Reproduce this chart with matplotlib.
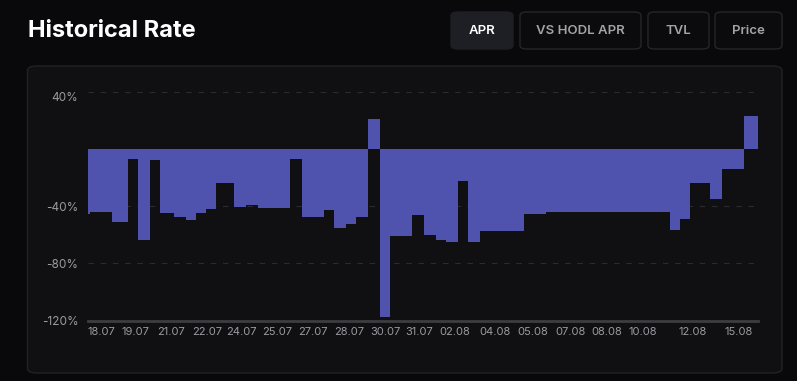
import numpy as np
import matplotlib
matplotlib.use("Agg")
import matplotlib.pyplot as plt
from matplotlib.patches import FancyBboxPatch

# APR runs: each value repeats for a number of consecutive bars
valores_apr = [-45.6, -44.0, -51.0, -7.0, -63.9, -7.7, -44.4, -47.3, -49.8, -44.7,
               -41.9, -23.4, -40.7, -39.1, -41.0, -40.9, -7.0, -47.5, -42.8, -55.2,
               -52.6, -47.7, 21.0, -117.7, -61.0, -46.3, -60.4, -63.9, -65.0, -22.5,
               -65.0, -57.3, -45.4, -44.2, -56.8, -48.9, -23.4, -35.1, -13.6, -14.0,
               23.2]
repeticiones = [1, 11, 8, 5, 6, 5, 7, 6, 5, 5,
                5, 9, 6, 6, 5, 11, 6, 11, 5, 6,
                5, 6, 6, 5, 11, 6, 6, 5, 6, 5,
                6, 22, 11, 62, 5, 5, 10, 6, 6, 5,
                7]

etiquetas = ["18.07", "19.07", "21.07", "22.07", "24.07", "25.07", "27.07", "28.07",
             "30.07", "31.07", "02.08", "04.08", "05.08", "07.08", "08.08", "10.08",
             "12.08", "15.08"]
pos_etiquetas = [6, 23, 41, 59, 76, 94, 112, 130, 148, 165, 183, 203, 222, 241,
                 259, 277, 302, 325]

y_ticks = [40, -40, -80, -120]
y_labels = ["40%", "-40%", "-80%", "-120%"]

botones = ["APR", "VS HODL APR", "TVL", "Price"]

apr = np.repeat(valores_apr, repeticiones)
x = np.arange(len(apr))

W, H = 797, 381
fig = plt.figure(figsize=(W / 100, H / 100), dpi=100)
fig.patch.set_facecolor("#09090b")

# panel del grafico
panel = FancyBboxPatch((27.5 / W, 1 - 373 / H), (782 - 27.5) / W, (373 - 66) / H,
                       boxstyle="round,pad=0,rounding_size=0.012",
                       transform=fig.transFigure, facecolor="#101013",
                       edgecolor="#222226", linewidth=1.0, zorder=-5)
fig.patches.append(panel)

fig.text(28 / W, 1 - 31 / H, "Historical Rate", color="white", fontsize=17,
         fontweight="bold", family="Inter", va="center", ha="left")

# botones
cajas = [(451, 513), (520, 641), (648, 709), (715, 782)]
for nombre, (x0, x1) in zip(botones, cajas):
    activo = nombre == "APR"
    b = FancyBboxPatch((x0 / W, 1 - 49 / H), (x1 - x0) / W, 37 / H,
                       boxstyle="round,pad=0,rounding_size=0.009",
                       transform=fig.transFigure,
                       facecolor="#1e1f24" if activo else "#0b0b0d",
                       edgecolor="#1e1f24" if activo else "#26262a",
                       linewidth=1.0, zorder=-5)
    fig.patches.append(b)
    fig.text((x0 + x1) / 2 / W, 1 - 31 / H, nombre,
             color="white" if activo else "#a3a3a8", fontsize=9.5,
             fontweight="semibold", family="Inter", ha="center", va="center")

ax = fig.add_axes([88 / W, 1 - 320.5 / H, (758 - 88) / W, (320.5 - 92) / H])
ax.set_facecolor("none")
ax.bar(x, apr, width=0.85, color="#5053ad", linewidth=0, zorder=2)

ax.set_xlim(-0.5, len(apr) - 0.5)
ax.set_ylim(-120, 40)
for v in [40, -40, -80]:
    ax.axhline(v, color="#2a2a30", linewidth=0.8, dashes=(5, 6), zorder=1)
ax.axhline(-120, color="#3c3c42", linewidth=2, zorder=3, clip_on=False)

for s in ax.spines.values():
    s.set_visible(False)

ax.set_yticks(y_ticks)
ax.set_yticklabels(y_labels)
ax.set_xticks(pos_etiquetas)
ax.set_xticklabels(etiquetas)
ax.tick_params(axis="y", length=0, colors="#9a9aa0", labelsize=8.5, pad=7)
ax.tick_params(axis="x", length=0, colors="#9a9aa0", labelsize=8, pad=5)
for t in ax.get_yticklabels() + ax.get_xticklabels():
    t.set_family("Inter")
ax.get_yticklabels()[0].set_verticalalignment("top")

fig.savefig("out.png", dpi=100, facecolor=fig.get_facecolor())
